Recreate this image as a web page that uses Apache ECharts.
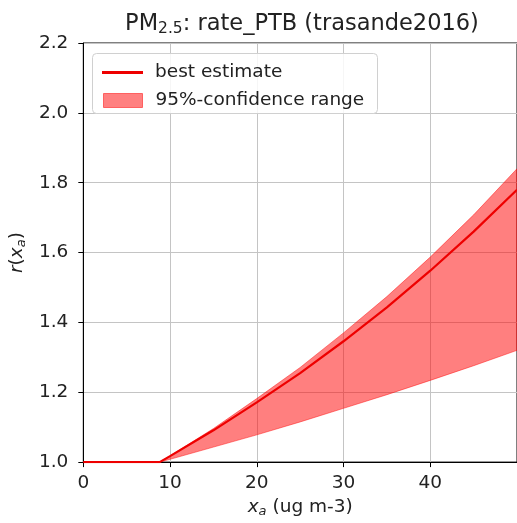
<!DOCTYPE html>
<html>
<head>
<meta charset="utf-8">
<script src="https://cdn.jsdelivr.net/npm/echarts@6/dist/echarts.min.js"></script>
<style>
html,body{margin:0;padding:0;background:#fff;}
#main{width:517px;height:523px;}
</style>
</head>
<body>
<div id="main"></div>
<script>
// Concentration x_a (ug m-3)
const xValues   = [0, 8.8, 10, 15, 20, 25, 30, 35, 40, 45, 50];
// best estimate r(x_a)
const bestEst   = [1.0, 1.0, 1.017, 1.091, 1.171, 1.255, 1.346, 1.443, 1.548, 1.660, 1.780];
// 95%-confidence range
const upperCI   = [1.0, 1.0, 1.018, 1.096, 1.182, 1.271, 1.370, 1.474, 1.587, 1.708, 1.840];
const lowerCI   = [1.0, 1.0, 1.008, 1.043, 1.078, 1.115, 1.154, 1.193, 1.234, 1.276, 1.320];
const xTicks = [0, 10, 20, 30, 40, 50];
const yTicks = [1.0, 1.2, 1.4, 1.6, 1.8, 2.0, 2.2];

const FONT = 'DejaVu Sans';
const chart = echarts.init(document.getElementById('main'), null, {renderer: 'canvas'});

const bandData  = xValues.map((x, i) => [x, lowerCI[i], upperCI[i]]);
const bestData  = xValues.map((x, i) => [x, bestEst[i]]);

const option = {
  animation: false,
  backgroundColor: '#ffffff',
  textStyle: {fontFamily: FONT},
  grid: {left: 82, top: 43, width: 440, height: 420, show: true, borderColor: '#000', borderWidth: 1, backgroundColor: 'transparent'},
  xAxis: {
    type: 'value', min: xTicks[0], max: xTicks[xTicks.length - 1], interval: 10,
    axisLine: {show: true, onZero: false, lineStyle: {color: '#000', width: 1}},
    axisTick: {show: true, length: 5, lineStyle: {color: '#000'}},
    axisLabel: {show: true, margin: 12, fontSize: 18.5, color: '#222', fontFamily: FONT, showMaxLabel: false},
    splitLine: {show: true, lineStyle: {color: '#c4c4c4', width: 1}},
    name: '{i|x}{s|a} (ug m-3)',
    nameLocation: 'middle', nameGap: 32,
    nameTextStyle: {fontSize: 18.5, color: '#222', fontFamily: FONT,
      rich: {i: {fontSize: 18.5, fontStyle: 'italic', fontFamily: FONT, color: '#222'},
             s: {fontSize: 13, fontStyle: 'italic', fontFamily: FONT, color: '#222', padding: [8, 0, 0, 0]}}}
  },
  yAxis: {
    type: 'value', min: yTicks[0], max: yTicks[yTicks.length - 1], interval: 0.2,
    axisLine: {show: true, onZero: false, lineStyle: {color: '#000', width: 1}},
    axisTick: {show: true, length: 5, lineStyle: {color: '#000'}},
    axisLabel: {show: true, margin: 15, fontSize: 18.5, color: '#222', fontFamily: FONT,
      formatter: v => v.toFixed(1)},
    splitLine: {show: true, lineStyle: {color: '#c4c4c4', width: 1}},
    name: '{i|r}({i|x}{s|a})',
    nameLocation: 'middle', nameGap: 43, nameRotate: 90,
    nameTextStyle: {fontSize: 18.5, color: '#222', fontFamily: FONT,
      rich: {i: {fontSize: 18.5, fontStyle: 'italic', fontFamily: FONT, color: '#222'},
             s: {fontSize: 13, fontStyle: 'italic', fontFamily: FONT, color: '#222', padding: [8, 0, 0, 0]}}}
  },
  legend: [
    {
      data: [{name: 'best estimate', icon: 'rect', itemStyle: {color: '#ee0000'}}],
      left: 97, top: 58, itemWidth: 41, itemHeight: 3, z: 10,
      textStyle: {fontSize: 18.5, color: '#222', fontFamily: FONT, padding: [0, 0, 0, 7]},
      selectedMode: false
    },
    {
      data: [{name: '95%-confidence range', icon: 'rect', itemStyle: {color: '#ff8080', borderColor: '#ff6060', borderWidth: 1}}],
      left: 98, top: 86, itemWidth: 39, itemHeight: 14, z: 10,
      textStyle: {fontSize: 18.5, color: '#222', fontFamily: FONT, padding: [0, 0, 0, 8]},
      selectedMode: false
    }
  ],
  graphic: [
    {type: 'rect', left: 92, top: 53, z: 8, shape: {width: 285, height: 60, r: 4},
     style: {fill: 'rgba(255,255,255,0.85)', stroke: '#d0d0d0', lineWidth: 1}},
    {type: 'text', x: 302, y: 24, z: 10,
     style: {text: '{n|PM}{s|2.5}{n|: rate_PTB (trasande2016)}', textAlign: 'center', textVerticalAlign: 'middle',
       rich: {n: {fontSize: 22.5, fontFamily: FONT, fill: '#222', color: '#222'},
              s: {fontSize: 15.5, fontFamily: FONT, fill: '#222', color: '#222', padding: [10, 0, 0, 0]}}}}
  ],
  series: [
    {
      name: '95%-confidence range', type: 'custom', data: bandData, silent: true, z: 2,
      encode: {x: 0, y: [1, 2]},
      itemStyle: {color: '#ff8080'},
      renderItem: function (params, api) {
        if (params.dataIndex !== 0) return null;
        const pts = [];
        for (let i = 0; i < xValues.length; i++) pts.push(api.coord([xValues[i], upperCI[i]]));
        for (let i = xValues.length - 1; i >= 0; i--) pts.push(api.coord([xValues[i], lowerCI[i]]));
        return {
          type: 'polygon', shape: {points: pts},
          style: {fill: 'rgba(255,0,0,0.5)', stroke: 'rgba(255,0,0,0.45)', lineWidth: 1}
        };
      }
    },
    {
      name: 'best estimate', type: 'line', data: bestData, symbol: 'none', silent: true,
      lineStyle: {color: '#ee0000', width: 2.2}, itemStyle: {color: '#ee0000'}, z: 5
    }
  ]
};
chart.setOption(option);
</script>
</body>
</html>
